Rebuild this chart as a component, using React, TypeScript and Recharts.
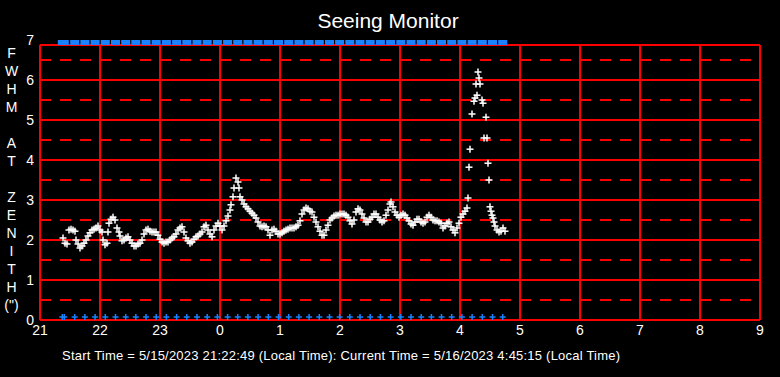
import React from "react";
import {
  ScatterChart,
  Scatter,
  XAxis,
  YAxis,
  ReferenceLine,
} from "recharts";

// minutes after 21:00 on the x axis, FWHM in arcsec on the y axis
const xTicks = [0, 60, 120, 180, 240, 300, 360, 420, 480, 540, 600, 660, 720];
const xTickLabels = ["21", "22", "23", "0", "1", "2", "3", "4", "5", "6", "7", "8", "9"];
const yTicks = [0, 1, 2, 3, 4, 5, 6, 7];
const halfLevels = [0.5, 1.5, 2.5, 3.5, 4.5, 5.5, 6.5];
const wholeLevels = [1, 2, 3, 4, 5, 6];

const seeingMinutes = [
  23, 25, 27, 29, 31, 33, 35, 36, 38, 40, 42, 44, 46, 48, 50, 52, 54, 56, 58, 60,
  62, 63, 65, 67, 68, 69, 71, 73, 75, 77, 79, 80, 82, 84, 86, 88, 90, 92, 94, 96,
  98, 100, 102, 104, 106, 108, 110, 112, 114, 116, 118, 120, 122, 124, 126, 128, 130, 132, 134, 136,
  138, 140, 142, 144, 146, 148, 150, 152, 154, 156, 158, 160, 162, 164, 166, 168, 170, 172, 174, 176,
  178, 180, 182, 184, 186, 188, 190, 191, 193, 194, 196, 198, 199, 200, 202, 204, 206, 208, 210, 212,
  214, 216, 218, 220, 222, 224, 226, 228, 230, 232, 234, 236, 238, 240, 242, 244, 246, 248, 250, 252,
  254, 256, 258, 260, 262, 264, 266, 268, 270, 272, 274, 276, 278, 280, 282, 284, 286, 288, 290, 292,
  294, 296, 298, 300, 302, 304, 306, 308, 310, 312, 314, 316, 318, 320, 322, 324, 326, 328, 330, 332,
  334, 336, 338, 340, 342, 344, 346, 348, 350, 351, 353, 355, 357, 359, 361, 363, 365, 367, 369, 371,
  373, 375, 377, 379, 381, 383, 385, 387, 389, 391, 393, 395, 397, 399, 401, 403, 405, 407, 409, 411,
  413, 415, 417, 419, 421, 423, 425, 427, 428, 429, 430, 432, 434, 435, 436, 437, 438, 439, 440, 442,
  443, 444, 446, 447, 448, 449, 450, 451, 452, 453, 454, 455, 457, 459, 461, 463, 465,
];

const seeingFwhm = [
  2.05, 1.92, 1.9, 2.25, 2.27, 2.25, 2.22, 2.0, 1.9, 1.8, 1.85, 1.92, 2.0, 2.1, 2.18, 2.25, 2.27, 2.3, 2.35, 2.25,
  2.2, 2.0, 1.88, 1.92, 2.2, 2.42, 2.52, 2.57, 2.5, 2.3, 2.2, 2.1, 1.98, 2.0, 2.05, 2.08, 2.0, 1.92, 1.85, 1.85,
  1.9, 1.92, 2.0, 2.15, 2.25, 2.27, 2.22, 2.2, 2.2, 2.2, 2.12, 2.02, 1.95, 1.92, 1.95, 1.95, 2.0, 2.05, 2.08, 2.15,
  2.25, 2.3, 2.33, 2.2, 2.05, 1.98, 1.92, 1.95, 2.02, 2.08, 2.1, 2.15, 2.2, 2.33, 2.37, 2.25, 2.15, 2.08, 2.25, 2.35,
  2.42, 2.35, 2.25, 2.35, 2.48, 2.6, 2.75, 2.88, 3.08, 3.3, 3.55, 3.45, 3.3, 3.08, 3.0, 2.9, 2.83, 2.78, 2.72, 2.67,
  2.62, 2.55, 2.45, 2.35, 2.33, 2.35, 2.33, 2.25, 2.12, 2.25, 2.27, 2.22, 2.15, 2.15, 2.18, 2.22, 2.25, 2.27, 2.3, 2.3,
  2.3, 2.33, 2.37, 2.48, 2.65, 2.75, 2.8, 2.78, 2.72, 2.7, 2.57, 2.45, 2.33, 2.22, 2.12, 2.12, 2.25, 2.37, 2.5, 2.55,
  2.6, 2.62, 2.62, 2.65, 2.65, 2.65, 2.62, 2.57, 2.48, 2.4, 2.5, 2.7, 2.78, 2.75, 2.65, 2.55, 2.45, 2.45, 2.52, 2.57,
  2.65, 2.65, 2.57, 2.5, 2.45, 2.48, 2.62, 2.75, 2.9, 2.95, 2.83, 2.7, 2.62, 2.57, 2.62, 2.65, 2.62, 2.55, 2.48, 2.4,
  2.37, 2.45, 2.52, 2.52, 2.45, 2.42, 2.45, 2.57, 2.62, 2.57, 2.5, 2.48, 2.48, 2.45, 2.42, 2.3, 2.35, 2.42, 2.45, 2.33,
  2.25, 2.18, 2.3, 2.42, 2.57, 2.65, 2.72, 2.8, 3.05, 3.82, 4.27, 5.15, 5.47, 5.55, 5.9, 5.62, 6.2, 6.05, 5.9, 5.5,
  5.42, 4.55, 5.07, 4.55, 3.92, 3.5, 2.83, 2.72, 2.62, 2.55, 2.45, 2.35, 2.25, 2.2, 2.22, 2.3, 2.22,
];

// blue status flags (drawn at the bottom and as the band along the top)
const flagMinutes = [
  22.3, 24.3, 34.7, 44.9, 55.1, 65.3, 75.5, 85.7, 95.8, 106, 116.2, 126.4, 136.6, 146.8, 157,
  167.2, 177.4, 187.6, 197.7, 207.9, 218.1, 228.3, 238.5, 248.7, 258.9, 269.1, 279.3, 289.5,
  299.6, 309.8, 320, 330.2, 340.4, 350.6, 360.8, 371, 381.2, 391.4, 401.5, 411.7, 421.9,
  432.1, 442.3, 452.5, 462.7,
];
const flagLow = 0;
const flagHigh = 7;

const yLabelLetters = ["F", "W", "H", "M", "", "A", "T", "", "Z", "E", "N", "I", "T", "H", '(")'];

const FONT = "'Liberation Sans', Arial, Helvetica, sans-serif";
const RED = "#ff0000";
const BLUE = "#1a82ff";
const FRAME_TOP = 6.875;

const seeingData = seeingMinutes.map((t, i) => ({ t, v: seeingFwhm[i] }));
const lowFlags = flagMinutes.map((t) => ({ t, v: flagLow }));
const highFlags = flagMinutes.map((t) => ({ t, v: flagHigh }));

const WhitePlus = (p: any) => (
  <g>
    <rect x={p.cx - 3.5} y={p.cy - 0.75} width={7} height={1.5} fill="#ffffff" />
    <rect x={p.cx - 0.75} y={p.cy - 3.5} width={1.5} height={7} fill="#ffffff" />
  </g>
);

const BluePlus = (p: any) => (
  <g>
    <rect x={p.cx - 3} y={p.cy - 3.75} width={6} height={1.5} fill={BLUE} />
    <rect x={p.cx - 0.75} y={p.cy - 6} width={1.5} height={6} fill={BLUE} />
  </g>
);

const BlueBand = (p: any) => (
  <rect x={p.cx - 4.5} y={p.cy} width={9} height={5} fill={BLUE} />
);

const XTick = (props: any) => {
  const { x, y, payload } = props;
  const label = xTickLabels[xTicks.indexOf(payload.value)];
  return (
    <text x={x} y={y + 11} textAnchor="middle" fill="#ffffff" fontSize={14} fontFamily={FONT}>
      {label}
    </text>
  );
};

const YTick = (props: any) => {
  const { x, y, payload } = props;
  return (
    <text x={x} y={y + 5} textAnchor="end" fill="#ffffff" fontSize={14} fontFamily={FONT}>
      {payload.value}
    </text>
  );
};

export default function App() {
  return (
    <div
      style={{
        position: "absolute",
        left: 0,
        top: 0,
        width: 780,
        height: 377,
        background: "#000000",
        overflow: "hidden",
      }}
    >
      <ScatterChart
        width={780}
        height={377}
        margin={{ top: 40, right: 20, bottom: 0, left: 0 }}
      >
        <XAxis
          type="number"
          dataKey="t"
          domain={[0, 720]}
          ticks={xTicks}
          interval={0}
          height={57}
          axisLine={false}
          tickLine={false}
          tickSize={0}
          tickMargin={4}
          tick={<XTick />}
        />
        <YAxis
          type="number"
          dataKey="v"
          domain={[0, 7]}
          ticks={yTicks}
          interval={0}
          width={40}
          axisLine={false}
          tickLine={false}
          tickSize={0}
          tickMargin={6}
          tick={<YTick />}
        />
        {halfLevels.map((h) => (
          <ReferenceLine key={"h" + h} y={h} stroke={RED} strokeWidth={2} strokeDasharray="11 9" />
        ))}
        {wholeLevels.map((h) => (
          <ReferenceLine key={"w" + h} y={h} stroke={RED} strokeWidth={2} />
        ))}
        {xTicks.map((m) => (
          <ReferenceLine
            key={"v" + m}
            segment={[
              { x: m, y: 0 },
              { x: m, y: FRAME_TOP },
            ]}
            stroke={RED}
            strokeWidth={2}
          />
        ))}
        <ReferenceLine y={0} stroke={RED} strokeWidth={2} />
        <ReferenceLine y={FRAME_TOP} stroke={RED} strokeWidth={2} />
        <Scatter data={seeingData} shape={WhitePlus} isAnimationActive={false} />
        <Scatter data={lowFlags} shape={BluePlus} isAnimationActive={false} />
        <Scatter data={highFlags} shape={BlueBand} isAnimationActive={false} />
      </ScatterChart>
      <svg
        width={780}
        height={377}
        style={{ position: "absolute", left: 0, top: 0, pointerEvents: "none" }}
      >
        <text x={388} y={28} textAnchor="middle" fill="#ffffff" fontSize={21} fontFamily={FONT}>
          Seeing Monitor
        </text>
        {yLabelLetters.map((ch, i) => (
          <text
            key={i}
            x={11.5}
            y={58 + i * 18}
            textAnchor="middle"
            fill="#ffffff"
            fontSize={14}
            fontFamily={FONT}
          >
            {ch}
          </text>
        ))}
        <text
          x={62}
          y={360}
          fill="#ffffff"
          fontSize={13}
          fontFamily={FONT}
          textLength={558}
          lengthAdjust="spacing"
        >
          Start Time = 5/15/2023 21:22:49 (Local Time): Current Time = 5/16/2023 4:45:15 (Local Time)
        </text>
      </svg>
    </div>
  );
}
